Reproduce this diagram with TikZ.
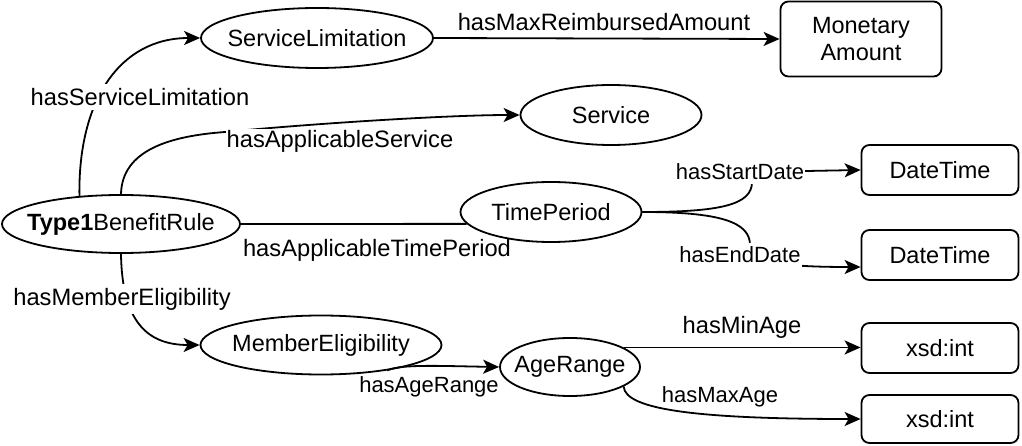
\documentclass[tikz,border=0pt]{standalone}
\usepackage{fontspec}
\setmainfont{Liberation Sans}
\usetikzlibrary{shapes.geometric,arrows.meta}
\begin{document}
\begin{tikzpicture}[x=1pt,y=1pt,
  ell/.style={ellipse,draw,line width=1.8pt,inner sep=0pt,font=\fontsize{23.5}{28}\selectfont},
  rbox/.style={rectangle,rounded corners=8pt,draw,line width=1.8pt,inner sep=0pt,align=center,font=\fontsize{23.5}{27}\selectfont},
  edge/.style={line width=1.8pt},
  arr/.style={edge,-{Stealth[length=16pt,width=14pt,inset=4pt]}},
  lbl/.style={inner xsep=1pt,inner ysep=4pt,font=\fontsize{23.7}{28}\selectfont},
  lblw/.style={lbl,fill=white},
  lbls/.style={font=\fontsize{22}{26}\selectfont}
]
\useasboundingbox (0,0) rectangle (1022,-446);

% nodes
\node[ell,minimum width=238pt,minimum height=58pt] (T1) at (121,-224) {\makebox[0pt]{\textbf{Type1}BenefitRule}};
\node[ell,minimum width=232pt,minimum height=60pt] (SL) at (317,-38) {\makebox[0pt]{ServiceLimitation}};
\node[ell,minimum width=181pt,minimum height=60pt] (SV) at (611,-115) {\makebox[0pt]{Service}};
\node[ell,minimum width=181pt,minimum height=60pt] (TP) at (551,-212) {\makebox[0pt]{TimePeriod}};
\node[ell,minimum width=241pt,minimum height=59pt] (ME) at (321,-345) {\makebox[0pt]{MemberEligibility}};
\node[ell,minimum width=140pt,minimum height=58pt] (AR) at (570,-367) {\makebox[0pt]{AgeRange}};

\node[rbox,minimum width=161pt,minimum height=75pt] (MA) at (861,-39) {Monetary\\Amount};
\node[rbox,minimum width=157pt,minimum height=50pt] (DT1) at (940,-170) {DateTime};
\node[rbox,minimum width=157pt,minimum height=50pt] (DT2) at (940,-255) {DateTime};
\node[rbox,minimum width=157pt,minimum height=50pt] (XI1) at (940,-348) {xsd:int};
\node[rbox,minimum width=157pt,minimum height=48pt] (XI2) at (940,-419) {xsd:int};

% connectors
\draw[arr] (T1.146) .. controls (78,-100) and (120,-38) .. (SL.west);
\draw[arr] (T1.north) .. controls (122,-150) and (170,-136) .. (225,-132) .. controls (320,-123) and (450,-115) .. (SV.west);
\draw[arr] (SL.east) -- (MA.west);
\draw[edge] (T1.east) -- (TP.188);
\draw[arr] (TP.east) .. controls (720,-212) and (752,-205) .. (752,-182) -- (752,-172) -- (DT1.west);
\draw[arr] (TP.east) .. controls (720,-212) and (750,-222) .. (750,-245) .. controls (750,-263) and (785,-267) .. ([yshift=-12pt]DT2.west);
\draw[arr] (T1.south) .. controls (122,-325) and (150,-345) .. (ME.west);
\draw[arr] (ME.-21) .. controls (400,-364) and (440,-366) .. (AR.west);
\draw[arr] (AR.20) -- (AR.20 -| XI1.west);
\draw[arr] (AR.-20) .. controls (625,-410) and (700,-419) .. (XI2.west);

% labels
\node[lblw] (l1) at (140,-97) {hasServiceLimitation};
\node[lblw,inner ysep=1pt] (l2) at (340,-141) {hasApplicableService};
\node[lbl] (l3) at (604,-22) {hasMaxReimbursedAmount};
\node[lbl] (l4) at (377,-250) {hasApplicableTimePeriod};
\node[lblw,lbls] (l5) at (740,-172) {hasStartDate};
\node[lblw,lbls] (l6) at (740,-255) {hasEndDate};
\node[lblw] (l7) at (122,-299) {hasMemberEligibility};
\node[lbl,lbls] (l8) at (429,-387) {hasAgeRange};
\node[lbl] (l9) at (742,-327) {hasMinAge};
\node[lbl,lbls] (l10) at (720,-397) {hasMaxAge};
\end{tikzpicture}
\end{document}
